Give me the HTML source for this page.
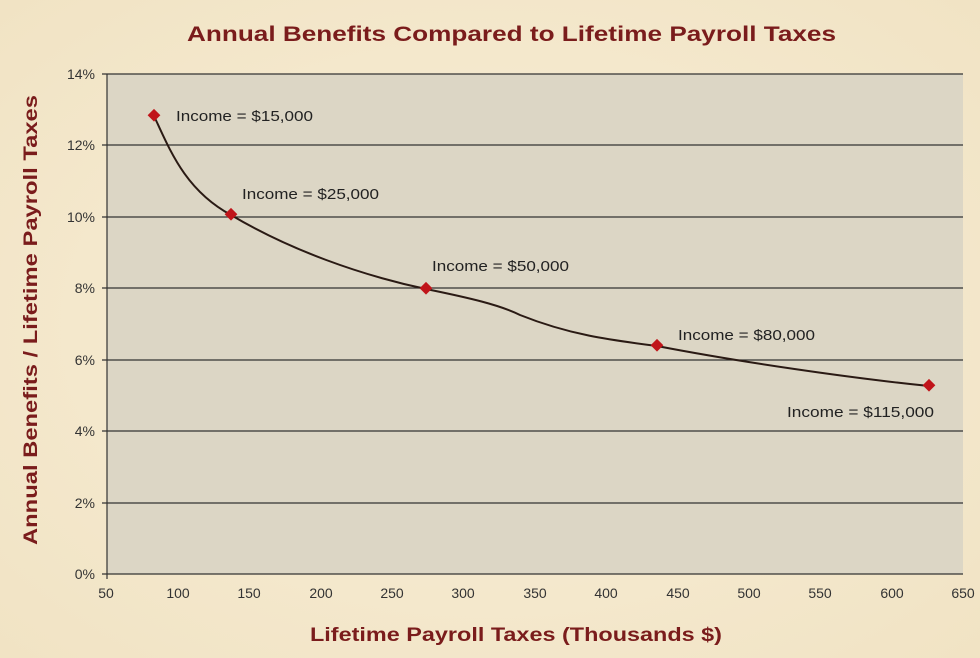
<!DOCTYPE html>
<html><head><style>
body{margin:0;width:980px;height:658px;background:#f6ebd2;overflow:hidden}
svg{display:block}
text{font-family:"Liberation Sans",sans-serif}
</style></head><body>
<svg width="980" height="658" viewBox="0 0 980 658">
<defs><radialGradient id="bg" cx="50%" cy="50%" r="70%"><stop offset="0" stop-color="#f8efd8"/><stop offset="1" stop-color="#f1e3c4"/></radialGradient></defs>
<rect width="980" height="658" fill="url(#bg)"/>
<text x="187" y="41" font-size="21" font-weight="bold" fill="#7a1c1c" textLength="649" lengthAdjust="spacingAndGlyphs">Annual Benefits Compared to Lifetime Payroll Taxes</text>
<rect x="107" y="74" width="856" height="500" fill="#dcd6c5"/>
<g stroke="#333" stroke-width="1.2">
<line x1="102" y1="74" x2="963" y2="74"/>
<line x1="102" y1="145" x2="963" y2="145"/>
<line x1="102" y1="217" x2="963" y2="217"/>
<line x1="102" y1="288" x2="963" y2="288"/>
<line x1="102" y1="360" x2="963" y2="360"/>
<line x1="102" y1="431" x2="963" y2="431"/>
<line x1="102" y1="503" x2="963" y2="503"/>
<line x1="102" y1="574" x2="963" y2="574"/>
<line x1="107" y1="74" x2="107" y2="579"/>
</g>
<g font-size="14" fill="#333" text-anchor="end">
<text x="95" y="79">14%</text><text x="95" y="150">12%</text><text x="95" y="222">10%</text><text x="95" y="293">8%</text><text x="95" y="365">6%</text><text x="95" y="436">4%</text><text x="95" y="508">2%</text><text x="95" y="579">0%</text>
</g>
<g font-size="14" fill="#333" text-anchor="middle">
<text x="106" y="598">50</text><text x="178" y="598">100</text><text x="249" y="598">150</text><text x="321" y="598">200</text><text x="392" y="598">250</text><text x="463" y="598">300</text><text x="535" y="598">350</text><text x="606" y="598">400</text><text x="678" y="598">450</text><text x="749" y="598">500</text><text x="820" y="598">550</text><text x="892" y="598">600</text><text x="963" y="598">650</text>
</g>
<text x="310" y="641" font-size="19" font-weight="bold" fill="#7a1c1c" textLength="412" lengthAdjust="spacingAndGlyphs">Lifetime Payroll Taxes (Thousands $)</text>
<text transform="translate(37,545) rotate(-90)" font-size="19" font-weight="bold" fill="#7a1c1c" textLength="450" lengthAdjust="spacingAndGlyphs">Annual Benefits / Lifetime Payroll Taxes</text>
<path d="M154,116 C170,150 185,190 231,215 C290,250 360,275 426,289 C470,298 500,305 520,315 C570,335 610,340 657,346 C740,362 850,378 929,386" fill="none" stroke="#2a1a14" stroke-width="2"/>
<g fill="#c0141a">
<rect x="149" y="111" width="9" height="9" transform="rotate(45 154 116)"/>
<rect x="226" y="210" width="9" height="9" transform="rotate(45 231 215)"/>
<rect x="421" y="284" width="9" height="9" transform="rotate(45 426 289)"/>
<rect x="652" y="341" width="9" height="9" transform="rotate(45 657 346)"/>
<rect x="924" y="381" width="9" height="9" transform="rotate(45 929 386)"/>
</g>
<g font-size="15" fill="#222" lengthAdjust="spacingAndGlyphs">
<text x="176" y="121" textLength="137" lengthAdjust="spacingAndGlyphs">Income = $15,000</text>
<text x="242" y="199" textLength="137" lengthAdjust="spacingAndGlyphs">Income = $25,000</text>
<text x="432" y="271" textLength="137" lengthAdjust="spacingAndGlyphs">Income = $50,000</text>
<text x="678" y="340" textLength="137" lengthAdjust="spacingAndGlyphs">Income = $80,000</text>
<text x="787" y="417" textLength="147" lengthAdjust="spacingAndGlyphs">Income = $115,000</text>
</g>
</svg>
</body></html>
